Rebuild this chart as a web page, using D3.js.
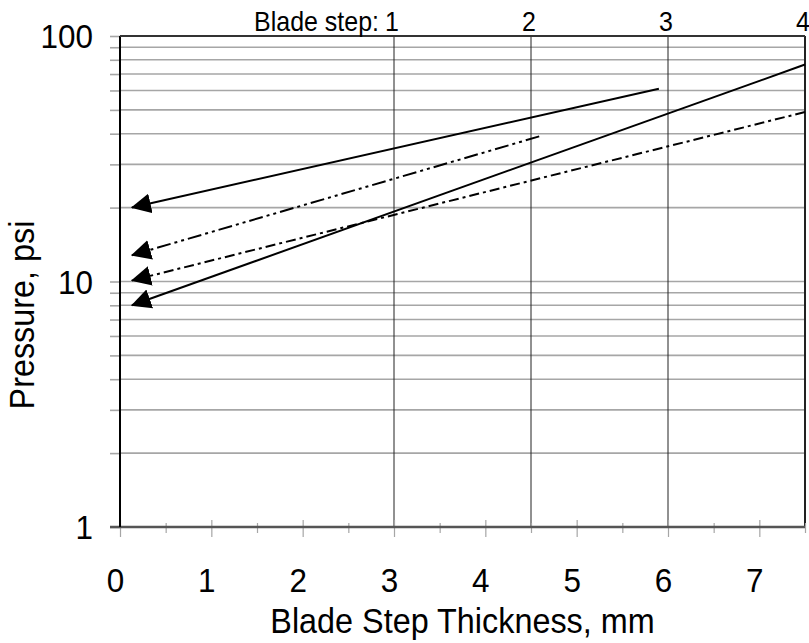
<!DOCTYPE html>
<html>
<head>
<meta charset="utf-8">
<script src="https://cdn.jsdelivr.net/npm/d3@7/dist/d3.min.js"></script>
<style>
  html, body { margin: 0; padding: 0; background: #fff; }
  svg { display: block; font-family: Arial, "Liberation Sans", sans-serif; }
</style>
</head>
<body>
<div id="chart"></div>
<script>
// ---------- data ----------
const X_TICKS = [0, 1, 2, 3, 4, 5, 6, 7];
const X_MINOR = [0.5, 1.5, 2.5, 3.5, 4.5, 5.5, 6.5, 7.5];
const Y_LABELS = [1, 10, 100];
const Y_GRID = [1, 2, 3, 4, 5, 6, 7, 8, 9, 10, 20, 30, 40, 50, 60, 70, 80, 90, 100];

const STEP_POS = [3, 4.5, 6, 7.5];
const STEP_LABELS = ["1", "2", "3", "4"];

// each series: [from (line end), to (arrow tip)]
const seriesA = [{ x: 5.9, y: 61 }, { x: 0.13, y: 20 }];    // solid, upper
const seriesB = [{ x: 4.59, y: 39 }, { x: 0.13, y: 12.8 }]; // dash-dot-dot
const seriesC = [{ x: 7.5, y: 49 }, { x: 0.13, y: 10.1 }];  // dash-dot
const seriesD = [{ x: 7.5, y: 76.5 }, { x: 0.13, y: 8.0 }]; // solid, steep

const SERIES = [
  { pts: seriesA, dash: null },
  { pts: seriesB, dash: "14,4,3,4,3,4" },
  { pts: seriesC, dash: "10,4,3,4" },
  { pts: seriesD, dash: null }
];

// ---------- layout ----------
const W = 809, H = 643;
const plot = { left: 120, right: 805, top: 36, bottom: 527 };
const GRID_COLOR = "#a6a6a6";
const FONT_BIG = 34;
const SQUEEZE = 0.925; // text in the original is slightly condensed

const x = d3.scaleLinear().domain([0, 7.5]).range([plot.left, plot.right]);
const y = d3.scaleLog().domain([1, 100]).range([plot.bottom, plot.top]);

const svg = d3.select("#chart").append("svg")
  .attr("width", W)
  .attr("height", H);

svg.append("rect").attr("width", W).attr("height", H).attr("fill", "#fff");

function squeezedText(parent, tx, ty, str, size, anchor, extra = "") {
  return parent.append("text")
    .attr("transform", `translate(${tx},${ty}) ${extra} scale(${SQUEEZE},1)`)
    .attr("text-anchor", anchor)
    .attr("font-size", size)
    .attr("fill", "#000")
    .text(str);
}

const defs = svg.append("defs");
defs.append("marker")
  .attr("id", "arrow")
  .attr("markerUnits", "userSpaceOnUse")
  .attr("viewBox", "0 -10 20 20")
  .attr("refX", 19)
  .attr("refY", 0)
  .attr("markerWidth", 20)
  .attr("markerHeight", 20)
  .attr("orient", "auto")
  .append("path")
  .attr("d", "M0,-10L20,0L0,10Z")
  .attr("fill", "#000");

// horizontal grid
svg.append("g")
  .selectAll("line")
  .data(Y_GRID)
  .join("line")
  .attr("x1", plot.left)
  .attr("x2", plot.right)
  .attr("y1", d => y(d))
  .attr("y2", d => y(d))
  .attr("stroke", GRID_COLOR)
  .attr("stroke-width", 1.6);

// vertical blade step lines
svg.append("g")
  .selectAll("line")
  .data(STEP_POS)
  .join("line")
  .attr("x1", d => x(d))
  .attr("x2", d => x(d))
  .attr("y1", plot.top)
  .attr("y2", plot.bottom)
  .attr("stroke", "#222")
  .attr("stroke-width", d => d === 7.5 ? 2 : 1);

// y axis: minor ticks (no labels)
svg.append("g")
  .attr("transform", `translate(${plot.left},0)`)
  .call(d3.axisLeft(y).tickValues(Y_GRID).tickSize(10).tickFormat(""))
  .call(g => g.select(".domain").remove())
  .call(g => g.selectAll(".tick line").attr("stroke", GRID_COLOR).attr("stroke-width", 1.6));

// y axis labels
svg.append("g")
  .attr("transform", `translate(${plot.left},0)`)
  .call(d3.axisLeft(y).tickValues(Y_LABELS).tickSize(0).tickFormat(d3.format("d")))
  .call(g => g.select(".domain").remove())
  .call(g => g.selectAll("text")
    .attr("x", 0)
    .attr("dy", "0.35em")
    .attr("transform", `translate(-27,0) scale(${SQUEEZE},1)`)
    .attr("font-size", FONT_BIG)
    .attr("font-family", "Arial, 'Liberation Sans', sans-serif")
    .attr("fill", "#000"));

// x axis minor + major ticks
svg.append("g")
  .attr("transform", `translate(0,${plot.bottom})`)
  .call(d3.axisBottom(x).tickValues(X_MINOR).tickSize(6).tickFormat(""))
  .call(g => g.select(".domain").remove())
  .call(g => g.selectAll(".tick line").attr("y1", -4).attr("stroke", GRID_COLOR).attr("stroke-width", 1.2));

svg.append("g")
  .attr("transform", `translate(0,${plot.bottom})`)
  .call(d3.axisBottom(x).tickValues(X_TICKS).tickSize(10).tickFormat(d3.format("d")))
  .call(g => g.select(".domain").remove())
  .call(g => g.selectAll(".tick line").attr("y1", -7).attr("stroke", GRID_COLOR).attr("stroke-width", 1.2))
  .call(g => g.selectAll("text")
    .attr("y", 0)
    .attr("dy", 0)
    .attr("transform", `translate(-5,65) scale(${SQUEEZE},1)`)
    .attr("font-size", FONT_BIG)
    .attr("font-family", "Arial, 'Liberation Sans', sans-serif")
    .attr("fill", "#000"));

// frame: bottom axis, left axis, top border
svg.append("line")
  .attr("x1", plot.left - 10).attr("x2", plot.right)
  .attr("y1", plot.bottom).attr("y2", plot.bottom)
  .attr("stroke", "#555").attr("stroke-width", 2.5);
svg.append("line")
  .attr("x1", plot.left).attr("x2", plot.left)
  .attr("y1", plot.top).attr("y2", plot.bottom)
  .attr("stroke", "#000").attr("stroke-width", 2);
svg.append("line")
  .attr("x1", plot.left).attr("x2", plot.right)
  .attr("y1", plot.top).attr("y2", plot.top)
  .attr("stroke", "#333").attr("stroke-width", 2);

// data lines with arrowheads
const line = d3.line().x(d => x(d.x)).y(d => y(d.y));
svg.append("g")
  .selectAll("path")
  .data(SERIES)
  .join("path")
  .attr("d", d => line(d.pts))
  .attr("fill", "none")
  .attr("stroke", "#000")
  .attr("stroke-width", 2)
  .attr("stroke-dasharray", d => d.dash)
  .attr("marker-end", "url(#arrow)");

// top blade step labels
const topG = svg.append("g");
STEP_POS.forEach((d, i) => squeezedText(topG, x(d) - 2, 31, STEP_LABELS[i], 27, "middle"));
squeezedText(topG, x(STEP_POS[0]) - 15, 31, "Blade step:", 27, "end");

// axis titles
squeezedText(svg, (plot.left + plot.right) / 2, 633, "Blade Step Thickness, mm", 35, "middle");
squeezedText(svg, 34, 315, "Pressure, psi", 35, "middle", "rotate(-90)");
</script>
</body>
</html>
